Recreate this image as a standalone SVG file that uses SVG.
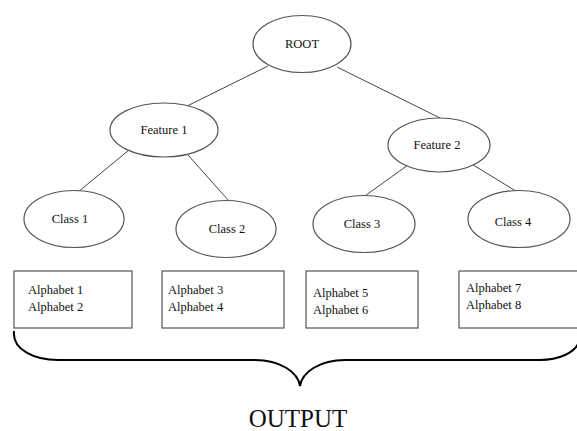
<svg xmlns="http://www.w3.org/2000/svg" width="577" height="431" viewBox="0 0 577 431">
<style>
.n ellipse{fill:#fff;stroke:#555;stroke-width:1.2}
.b rect{fill:#fff;stroke:#555;stroke-width:1.2}
text{font-family:"Liberation Serif","Times New Roman",serif;font-size:12.5px;fill:#111}
.c line{stroke:#444;stroke-width:1}
</style>
<rect width="577" height="431" fill="#fff"/>
<g class="c" id="connectors">
<line x1="268" y1="66" x2="173" y2="113"/>
<line x1="337" y1="67" x2="440" y2="118"/>
<line x1="129" y1="150" x2="78" y2="192"/>
<line x1="188" y1="155" x2="229" y2="201"/>
<line x1="408" y1="165" x2="362" y2="198"/>
<line x1="470" y1="163" x2="519" y2="193"/>
</g>
<g class="n" id="root"><ellipse cx="302" cy="44" rx="49" ry="28.5"/><text x="302" y="48" text-anchor="middle">ROOT</text></g>
<g class="n" id="feature1"><ellipse cx="164" cy="130" rx="54" ry="27"/><text x="164" y="134" text-anchor="middle">Feature 1</text></g>
<g class="n" id="feature2"><ellipse cx="439" cy="145" rx="51" ry="27"/><text x="437" y="149" text-anchor="middle">Feature 2</text></g>
<g class="n" id="class1"><ellipse cx="74" cy="219" rx="50" ry="28.5"/><text x="70" y="223" text-anchor="middle">Class 1</text></g>
<g class="n" id="class2"><ellipse cx="226" cy="229" rx="50" ry="28.5"/><text x="227" y="233" text-anchor="middle">Class 2</text></g>
<g class="n" id="class3"><ellipse cx="364" cy="224" rx="51" ry="28.5"/><text x="362" y="228" text-anchor="middle">Class 3</text></g>
<g class="n" id="class4"><ellipse cx="519" cy="219" rx="51" ry="28.5"/><text x="513" y="226" text-anchor="middle">Class 4</text></g>
<g class="b" id="box1"><rect x="14" y="271" width="118" height="57"/><text x="28" y="294">Alphabet 1</text><text x="28" y="311">Alphabet 2</text></g>
<g class="b" id="box2"><rect x="162" y="271" width="122" height="57"/><text x="168" y="294">Alphabet 3</text><text x="168" y="311">Alphabet 4</text></g>
<g class="b" id="box3"><rect x="306" y="271" width="112" height="57"/><text x="313" y="297">Alphabet 5</text><text x="313" y="314">Alphabet 6</text></g>
<g class="b" id="box4"><rect x="459" y="271" width="125" height="57"/><text x="466" y="292">Alphabet 7</text><text x="466" y="309">Alphabet 8</text></g>
<g id="brace"><path d="M14,331 C12,350 35,360 58,360 L255,360 C280,360 298,372 300,386 C302,372 320,360 345,360 L540,360 C560,360 574,352 578,344" fill="none" stroke="#000" stroke-width="2"/></g>
<g id="output"><text x="298" y="427" text-anchor="middle" style="font-size:25px">OUTPUT</text></g>
</svg>
